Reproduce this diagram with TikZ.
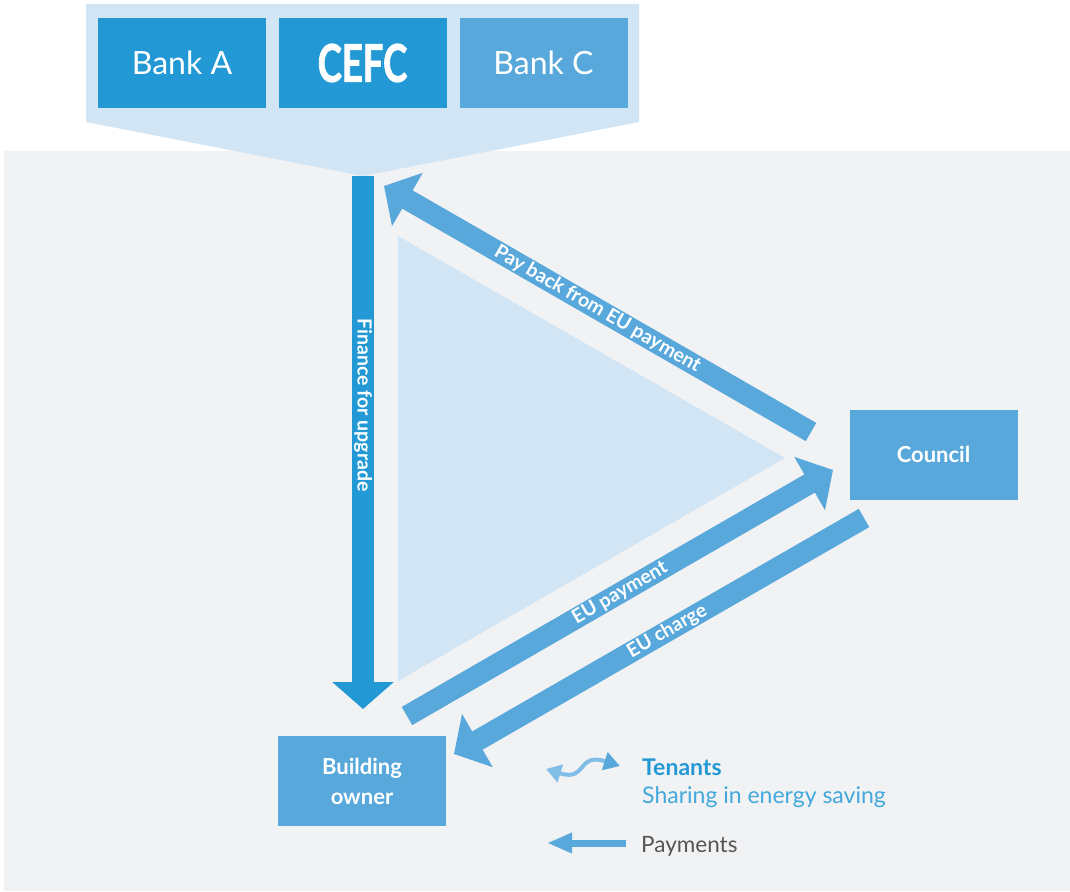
\documentclass[tikz,border=0pt]{standalone}
\usepackage{xcolor}
\usepackage{tikz}
\usepackage{fontspec}
\setmainfont{Lato}
\newfontfamily\condfont[FakeStretch=0.7,BoldFeatures={FakeBold=1.5}]{Lato}
\usetikzlibrary{arrows.meta, positioning}

\definecolor{panelblue}{HTML}{D2E5F5}
\definecolor{deepblue}{HTML}{2299D5}
\definecolor{midblue}{HTML}{58A8DC}
\definecolor{paleblue}{HTML}{80BDE7}
\definecolor{bggrey}{HTML}{F1F2F4}
\definecolor{textgrey}{HTML}{555555}

\begin{document}
\begin{tikzpicture}[x=1pt,y=-1pt]
        \useasboundingbox (0,0) rectangle (1070,891);
        \fill[bggrey] (4,151) rectangle (1070,891);
        \fill[panelblue] (86,4) -- (639,4) -- (639,122) -- (363,176) -- (86,122) -- cycle;
        \fill[panelblue] (398,236) -- (785,458) -- (398,681) -- cycle;
        \begin{scope}[every node/.style={inner sep=0pt,text=white,minimum width=168pt,minimum height=90pt}]
          \node[fill=deepblue,font=\fontsize{32}{38}\selectfont] (banka) at (182,63) {Bank A};
          \node[fill=deepblue,font=\condfont\bfseries\fontsize{52}{56}\selectfont] (cefc) at (362.5,63) {CEFC};
          \node[fill=midblue,font=\fontsize{32}{38}\selectfont] (bankc) at (543.5,63) {Bank C};
          \node[fill=midblue,font=\bfseries\fontsize{22}{30}\selectfont] (council) at (933.5,454.5) {Council};
          \node[fill=midblue,font=\bfseries\fontsize{22}{30}\selectfont,align=center] (owner) at (362,781) {Building\\owner};
        \end{scope}
        \coordinate (finance top) at (363,176);
        \coordinate (finance tip) at (363,709);
        \coordinate (payback tail) at (811,432);
        \coordinate (payback tip) at (384,186);
        \coordinate (eupay tail) at (407,716);
        \coordinate (eupay tip) at (833,470);
        \coordinate (eucharge tail) at (864,518);
        \coordinate (eucharge tip) at (454,754);
        \begin{scope}[every edge/.style={draw=midblue,line width=21pt,-{Triangle[width=60pt,length=27pt]}},
                      every node/.style={text=white,font=\bfseries\fontsize{19.5}{22}\selectfont,sloped}]
          \path (finance top) edge[draw=deepblue,line width=22pt] node[pos=0.43] {Finance for upgrade} (finance tip);
          \path (payback tail) edge node {Pay back from EU payment} (payback tip);
          \path (eupay tail) edge node {EU payment} (eupay tip);
          \path (eucharge tail) edge node[pos=0.48] {EU charge} (eucharge tip);
        \end{scope}
        % legend
        \coordinate (tenants left) at (546,769);
        \coordinate (tenants right) at (620,766);
        \draw[paleblue,line width=4pt,{Triangle[width=18pt,length=15pt,color=paleblue]}-{Triangle[width=18pt,length=16pt,color=midblue]}]
          (tenants left) .. controls (588,782) and (576,752) .. (tenants right);
        \node[anchor=base west,inner sep=0pt,text=deepblue,font=\bfseries\fontsize{23}{26}\selectfont] (tenants) at (642,775) {Tenants};
        \node[anchor=base west,inner sep=0pt,text=deepblue!85,font=\fontsize{23}{26}\selectfont] (sharing) at (642,803) {Sharing in energy saving};
        \coordinate (payments tail) at (626,843);
        \coordinate (payments tip) at (547,843);
        \draw[midblue,line width=7pt,-{Triangle[width=19pt,length=25pt]}] (payments tail) -- (payments tip);
        \node[anchor=base west,inner sep=0pt,text=textgrey,font=\fontsize{22.5}{26}\selectfont] (payments) at (641,852) {Payments};
      \end{tikzpicture}
\end{document}
